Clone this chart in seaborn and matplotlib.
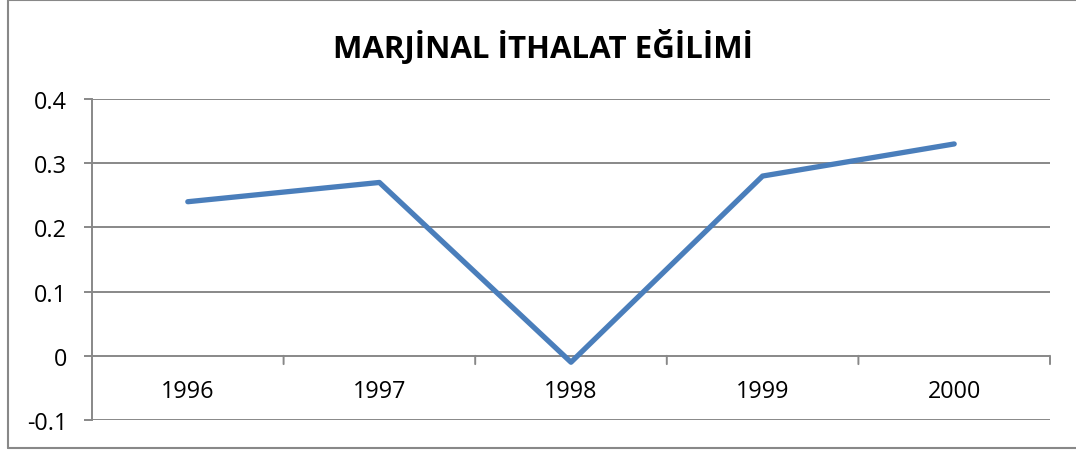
import matplotlib
matplotlib.use("Agg")
import matplotlib.pyplot as plt
import seaborn as sns
import pandas as pd
from matplotlib.lines import Line2D

years = ["1996", "1997", "1998", "1999", "2000"]
values = [0.24, 0.27, -0.01, 0.28, 0.33]
yticks = [-0.1, 0.0, 0.1, 0.2, 0.3, 0.4]
ytick_labels = ["-0.1", "0", "0.1", "0.2", "0.3", "0.4"]
title = "MARJİNAL İTHALAT EĞİLİMİ"

sns.set_theme(style="white")
plt.rcParams["font.family"] = ["Open Sans", "DejaVu Sans"]

W, H = 1076, 452
fig = plt.figure(figsize=(W / 100, H / 100), dpi=100)
ax = fig.add_axes([92 / W, 1 - 421 / H, (1050 - 92) / W, (421 - 100) / H])

df = pd.DataFrame({"year": years, "value": values})
sns.lineplot(data=df, x="year", y="value", ax=ax, color="#4A7EBB",
             linewidth=3.8, sort=False, solid_capstyle="round")

grid_c = "#888888"
ax.set_xlim(-0.5, len(years) - 0.5)
ax.set_ylim(-0.1, 0.4)
ax.set_yticks(yticks)
ax.set_yticklabels(ytick_labels, fontsize=16.8, color="black")
for y in yticks:
    if y != 0:
        ax.axhline(y, color=grid_c, linewidth=1.4, zorder=0)

for s in ["top", "right"]:
    ax.spines[s].set_visible(False)
ax.spines["bottom"].set_visible(False)
ax.spines["left"].set_color(grid_c)
ax.spines["left"].set_linewidth(1.4)

# horizontal category axis crossing at 0
ax.axhline(0, color=grid_c, linewidth=1.4, zorder=1)
ax.set_xticks(range(len(years)))
ax.set_xticklabels([])
ax.tick_params(axis="x", length=0)
for i, yr in enumerate(years):
    ax.annotate(yr, xy=(i, 0), xycoords="data", xytext=(0, -25.5),
                textcoords="offset points", ha="center", va="center",
                fontsize=16.8, color="black")
# boundary tick marks
for b in [x - 0.5 for x in range(1, len(years) + 1)]:
    ax.annotate("", xy=(b, 0), xycoords="data", xytext=(0, -6),
                textcoords="offset points",
                arrowprops=dict(arrowstyle="-", color=grid_c, lw=1.4,
                                shrinkA=0, shrinkB=0))

ax.tick_params(axis="y", direction="out", length=6, width=1.4,
               color=grid_c, pad=12, left=True)
ax.set_xlabel("")
ax.set_ylabel("")

fig.text(543 / W, 1 - 47 / H, title, ha="center", va="center",
         fontsize=22.5, fontweight="bold", color="black")

# chart frame
fc = "#888888"
fig.add_artist(Line2D([8 / W, 1.0], [1 - 1 / H, 1 - 1 / H], transform=fig.transFigure, color=fc, lw=1.5))
fig.add_artist(Line2D([8 / W, 8 / W], [1 - 1 / H, 1 - 449 / H], transform=fig.transFigure, color=fc, lw=1.5))
fig.add_artist(Line2D([8 / W, 1.0], [1 - 449 / H, 1 - 449 / H], transform=fig.transFigure, color=fc, lw=1.5))

fig.savefig("out.png", dpi=100, facecolor="white")
